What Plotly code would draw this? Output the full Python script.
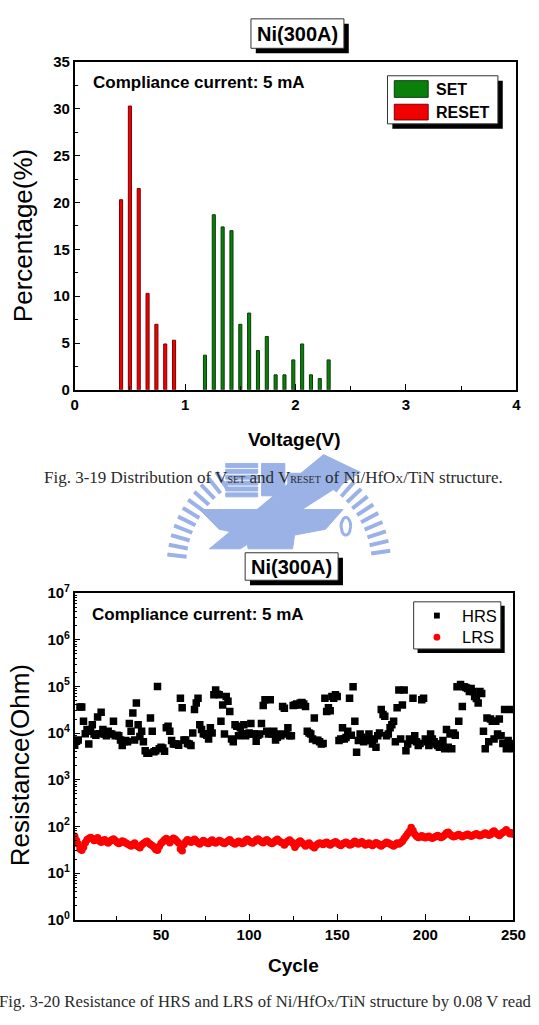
import math
import plotly.graph_objects as go

W, H = 539, 1025
def px(x): return x / W
def py(y): return 1 - y / H

# ---------------- data: top chart ----------------
reset_v = [0.42, 0.50, 0.58, 0.66, 0.74, 0.82, 0.90]
reset_pct = [20.3, 30.3, 21.5, 10.3, 7.0, 4.9, 5.3]
set_v = [1.18, 1.26, 1.34, 1.42, 1.50, 1.58, 1.66, 1.74, 1.82, 1.90, 1.98, 2.06, 2.14, 2.22, 2.30]
set_pct = [3.7, 18.7, 17.4, 17.0, 7.0, 8.2, 4.2, 5.7, 1.6, 1.6, 3.2, 4.9, 1.6, 1.2, 3.2]

# ---------------- data: bottom chart ----------------
cycles = list(range(1, 251))
hrs_ohm = [
    5.5e3, 6.7e3, 7.1e3, 3.6e4, 3.6e4, 1.8e4, 9.7e3, 1.2e4, 5.8e3, 1.1e4,
    1.5e4, 9.5e3, 9.0e3, 2.2e4, 9.7e3, 2.8e4, 1.2e4, 9.5e3, 8.8e3, 1.1e4,
    9.7e3, 9.5e3, 1.8e4, 8.8e3, 9.0e3, 8.8e3, 7.1e3, 5.4e3, 6.5e3, 6.9e3,
    6.5e3, 1.6e4, 1.1e4, 2.7e4, 7.1e3, 4.4e4, 1.5e4, 8.4e3, 1.1e4, 6.5e3,
    4.2e3, 3.7e3, 3.7e3, 2.1e4, 1.1e4, 4.0e3, 4.2e3, 1.0e5, 4.6e3, 5.0e3,
    4.8e3, 4.1e3, 1.3e4, 1.4e4, 1.1e4, 6.9e3, 5.8e3, 5.8e3, 5.8e3, 5.5e3,
    5.6e4, 3.5e4, 7.1e3, 7.1e3, 6.0e3, 5.8e3, 5.4e3, 1.0e4, 3.2e4, 4.4e4,
    5.6e4, 1.5e4, 1.2e4, 9.7e3, 9.5e3, 9.0e3, 7.5e3, 1.3e4, 1.0e4, 6.6e4,
    8.4e4, 6.8e4, 6.6e4, 1.8e4, 4.0e4, 9.5e3, 6.1e4, 4.8e4, 2.9e4, 7.5e3,
    6.5e3, 1.5e4, 1.4e4, 8.8e3, 1.3e4, 9.5e3, 1.5e4, 8.8e3, 9.5e3, 1.0e4,
    1.6e4, 9.5e3, 9.5e3, 6.7e3, 9.0e3, 9.5e3, 1.6e4, 3.9e4, 5.2e4, 1.1e4,
    9.5e3, 5.2e4, 9.5e3, 1.1e4, 7.1e3, 8.1e3, 9.5e3, 8.8e3, 3.7e4, 3.4e4,
    9.5e3, 1.3e4, 8.8e3, 8.8e3, 3.9e4, 4.0e4, 4.2e4, 4.0e4, 4.4e4, 4.5e4,
    4.2e4, 3.7e4, 1.1e4, 1.0e4, 9.5e3, 7.5e3, 2.1e4, 6.9e3, 7.0e3, 6.5e3,
    5.8e3, 6.0e3, 5.6e4, 2.9e4, 3.5e4, 3.0e4, 6.1e4, 5.6e4, 6.6e4, 6.1e4,
    6.9e3, 7.5e3, 1.3e4, 7.5e3, 8.0e3, 1.1e4, 5.6e4, 9.0e3, 9.8e4, 1.8e4,
    3.9e3, 6.9e3, 9.5e3, 8.1e3, 6.5e3, 7.0e3, 6.9e3, 9.5e3, 6.9e3, 5.8e3,
    7.5e3, 5.0e3, 8.8e3, 1.0e4, 3.2e4, 2.5e4, 2.3e4, 8.8e3, 9.5e3, 1.3e4,
    1.5e4, 1.8e4, 6.5e3, 3.5e4, 8.4e4, 7.5e3, 4.0e4, 8.4e4, 4.2e3, 5.8e3,
    7.5e3, 6.9e3, 5.6e4, 8.8e3, 6.5e3, 5.4e3, 6.0e3, 5.2e4, 5.6e4, 7.5e3,
    6.5e3, 5.4e3, 9.5e3, 7.5e3, 6.5e3, 5.8e3, 5.4e3, 5.0e3, 5.8e3, 6.9e3,
    4.6e3, 1.2e4, 5.0e3, 9.5e3, 4.6e3, 1.0e4, 9.0e3, 9.8e4, 1.8e4, 1.1e5,
    3.7e4, 9.8e4, 9.5e4, 9.0e4, 7.8e4, 9.0e4, 7.8e4, 6.1e4, 5.5e4, 4.4e4,
    7.8e4, 7.0e4, 1.1e4, 4.6e3, 2.1e4, 6.5e3, 2.0e4, 1.8e4, 7.5e3, 1.8e4,
    9.5e3, 2.0e4, 8.8e3, 6.0e3, 3.2e4, 4.6e3, 6.9e3, 6.0e3, 3.2e4, 4.6e3,
]
lrs_ohm = [
    62, 50, 42, 33, 31, 36, 45, 52, 55, 58,
    55, 50, 53, 57, 49, 46, 50, 52, 47, 44,
    48, 51, 54, 50, 46, 43, 45, 49, 47, 44,
    42, 40, 38, 41, 44, 39, 37, 35, 40, 43,
    46, 48, 44, 41, 39, 36, 32, 31, 37, 43,
    47, 52, 55, 50, 45, 52, 56, 53, 48, 44,
    33, 30, 41, 47, 52, 50, 46, 49, 53, 48,
    45, 42, 46, 50, 47, 44, 43, 48, 51, 46,
    44, 47, 50, 48, 45, 43, 46, 49, 52, 47,
    44, 42, 45, 48, 46, 43, 45, 50, 53, 49,
    46, 44, 47, 51, 54, 50, 47, 45, 49, 52,
    48, 45, 43, 46, 50, 53, 49, 46, 44, 40,
    45, 48, 51, 47, 43, 36, 41, 46, 49, 45,
    42, 38, 41, 44, 40, 37, 35, 39, 42, 44,
    43, 41, 44, 46, 42, 40, 43, 45, 47, 44,
    41, 39, 42, 44, 46, 43, 40, 41, 45, 48,
    44, 42, 45, 47, 43, 40, 42, 44, 41, 39,
    42, 45, 43, 40, 38, 41, 43, 46, 44, 42,
    40, 38, 41, 44, 42, 45, 48, 55, 62, 70,
    78, 95, 82, 68, 62, 58, 60, 63, 59, 57,
    60, 62, 58, 56, 59, 61, 64, 60, 58, 61,
    66, 72, 75, 68, 63, 60, 62, 65, 67, 63,
    60, 63, 66, 68, 65, 62, 64, 67, 70, 66,
    63, 66, 69, 72, 68, 65, 67, 75, 80, 72,
    68, 64, 70, 74, 78, 85, 76, 70, 73, 68,
]

x_ticks_top = [0, 1, 2, 3, 4]
y_ticks_top = [0, 5, 10, 15, 20, 25, 30, 35]
x_ticks_bot = [50, 100, 150, 200, 250]
y_exp_bot = [0, 1, 2, 3, 4, 5, 6, 7]

SANS = "Liberation Sans, Arial, sans-serif"
SERIF = "Liberation Serif, Times New Roman, serif"
GREEN, GREEN_EDGE = "#0a800a", "#0b3d0b"
RED, RED_EDGE = "#f20000", "#7a0000"
LOGO = "#9ab2e6"

fig = go.Figure()

# ---- faint emblem (watermark) drawn on a hidden full-page pixel overlay ----
def deco(xs, ys, **kw):
    fig.add_trace(go.Scatter(x=xs, y=ys, xaxis="x3", yaxis="y3", showlegend=False,
                             hoverinfo="skip", **kw))

def fill_poly(pts):
    xs = [p[0] for p in pts] + [pts[0][0]]
    ys = [p[1] for p in pts] + [pts[0][1]]
    deco(xs, ys, mode="lines", fill="toself", fillcolor=LOGO, line=dict(color=LOGO, width=1))

cx, cy = 284, 566
rx, ry = [], []
for ang in list(range(186, 240, 5)) + list(range(302, 356, 5)):
    t = math.radians(ang)
    rx += [cx + 96 * math.cos(t), cx + 116 * math.cos(t), None]
    ry += [cy + 96 * math.sin(t), cy + 116 * math.sin(t), None]
deco(rx, ry, mode="lines", line=dict(color=LOGO, width=4))
for k in range(6):
    fill_poly([(229, 461 + k * 6), (262, 461 + k * 6), (262, 465 + k * 6), (229, 465 + k * 6)])
fill_poly([(266, 461), (290, 461), (290, 494), (266, 494)])
fill_poly([(293, 471), (314, 471), (314, 494), (293, 494)])
fill_poly([(330, 452), (368, 470), (244, 548), (212, 548)])
fill_poly([(202, 508), (350, 508), (332, 528), (300, 534), (298, 548),
           (252, 548), (250, 534), (222, 528)])
ex = [353 + 5 * math.cos(math.radians(a)) for a in range(0, 361, 20)]
ey = [525 + 9 * math.sin(math.radians(a)) for a in range(0, 361, 20)]
deco(ex, ey, mode="lines", line=dict(color=LOGO, width=3))

# ---- data traces ----
fig.add_trace(go.Bar(x=set_v, y=set_pct, width=0.028, name="SET",
                     marker=dict(color=GREEN, line=dict(color=GREEN_EDGE, width=1)),
                     xaxis="x", yaxis="y", showlegend=False))
fig.add_trace(go.Bar(x=reset_v, y=reset_pct, width=0.028, name="RESET",
                     marker=dict(color=RED, line=dict(color=RED_EDGE, width=1)),
                     xaxis="x", yaxis="y", showlegend=False))

fig.add_trace(go.Scatter(x=cycles, y=lrs_ohm, mode="markers", name="LRS",
                         marker=dict(symbol="circle", size=7.5, color="#ff0000"),
                         xaxis="x2", yaxis="y2", showlegend=False))
fig.add_trace(go.Scatter(x=cycles, y=hrs_ohm, mode="markers", name="HRS",
                         marker=dict(symbol="square", size=7.5, color="#000000"),
                         xaxis="x2", yaxis="y2", showlegend=False))

axis_common = dict(showline=True, mirror=True, linecolor="black", linewidth=1.5,
                   ticks="inside", ticklen=6, tickwidth=1.2, tickcolor="black",
                   showgrid=False, zeroline=False,
                   tickfont=dict(family=SANS, size=15, color="black", weight="bold"))

minor_top_y = [2.5 + 5 * k for k in range(7)]
minor_bot_y = [k * 10 ** n for n in range(7) for k in range(2, 10)]

fig.update_layout(
    width=W, height=H, margin=dict(l=0, r=0, t=0, b=0),
    paper_bgcolor="white", plot_bgcolor="rgba(0,0,0,0)", barmode="overlay",
    xaxis=dict(domain=[px(73), px(529)], range=[0, 4], anchor="y",
               tickmode="array", tickvals=x_ticks_top,
               minor=dict(ticks="inside", ticklen=4, tickcolor="black",
                          tickmode="array", tickvals=[0.5, 1.5, 2.5, 3.5]),
               **axis_common),
    yaxis=dict(domain=[py(386), py(52)], range=[0, 35], anchor="x",
               tickmode="array", tickvals=y_ticks_top,
               minor=dict(ticks="inside", ticklen=4, tickcolor="black",
                          tickmode="array", tickvals=minor_top_y),
               **axis_common),
    xaxis2=dict(domain=[px(73), px(526)], range=[1, 250], anchor="y2",
                tickmode="array", tickvals=x_ticks_bot,
                minor=dict(ticks="inside", ticklen=4, tickcolor="black",
                           tickmode="array", tickvals=[25, 75, 125, 175, 225]),
                **axis_common),
    yaxis2=dict(domain=[py(926), py(593)], type="log", range=[0, 7], anchor="x2",
                tickmode="array", tickvals=[10 ** e for e in y_exp_bot],
                ticktext=["10<sup>%d</sup>" % e for e in y_exp_bot],
                minor=dict(ticks="inside", ticklen=3, tickcolor="black",
                           tickmode="array", tickvals=minor_bot_y),
                **axis_common),
    xaxis3=dict(domain=[0, 1], range=[0, W], anchor="y3", visible=False, fixedrange=True),
    yaxis3=dict(domain=[0, 1], range=[H, 0], anchor="x3", visible=False, fixedrange=True),
)

shapes = []
annotations = []

def rect(x0, y0, x1, y1, fill, line_color=None, lw=0):
    shapes.append(dict(type="rect", xref="paper", yref="paper", layer="above",
                       x0=px(x0), x1=px(x1), y0=py(y1), y1=py(y0), fillcolor=fill,
                       line=dict(color=line_color or fill, width=lw)))

def box(x0, y0, x1, y1, sh=5):
    rect(x0 + sh, y0 + sh, x1 + sh, y1 + sh, "black")
    rect(x0, y0, x1, y1, "white", "#333", 1)

def text(x, y, s, size, weight="normal", xanchor="center", family=SANS, color="black", angle=0):
    annotations.append(dict(x=px(x), y=py(y), xref="paper", yref="paper", text=s,
                            showarrow=False, xanchor=xanchor, yanchor="middle",
                            textangle=angle,
                            font=dict(family=family, size=size, color=color, weight=weight)))

# top title box
box(255, 8, 351, 38)
text(303, 23, "Ni(300A)", 20, "bold")
# top legend
box(396, 66, 510, 115)
rect(403, 71, 438, 88, GREEN, GREEN_EDGE, 1)
rect(403, 95, 438, 111, RED, RED_EDGE, 1)
text(444, 80, "SET", 16, "bold", "left")
text(444, 103, "RESET", 16, "bold", "left")
text(90, 73, "Compliance current: 5 mA", 17, "bold", "left")
text(300, 437, "Voltage(V)", 19, "bold")
text(19, 229, "Percentage(%)", 26, "normal", angle=-90)
text(278, 475, "Fig. 3-19 Distribution of V<span style='font-size:10px'>SET</span> and "
     "V<span style='font-size:10px'>RESET</span> of Ni/HfO<span style='font-size:11px'>X</span>/TiN structure.",
     17, family=SERIF, color="#2a2a2a")

# bottom title box
box(249, 552, 345, 580)
text(297, 566, "Ni(300A)", 20, "bold")
# bottom legend
box(423, 602, 513, 650, sh=4)
rect(444, 613, 450, 619, "black")
shapes.append(dict(type="circle", xref="paper", yref="paper", x0=px(443.5), x1=px(450.5),
                   y0=py(641.5), y1=py(634.5), fillcolor="#ff0000", line=dict(width=0)))
text(471, 616, "HRS", 16.5, "normal", "left")
text(471, 638, "LRS", 16.5, "normal", "left")
text(89, 615, "Compliance current: 5 mA", 17, "bold", "left")
text(299, 973, "Cycle", 19, "bold")
text(16, 768, "Resistance(Ohm)", 26, "normal", angle=-90)
text(269.5, 1009, "Fig. 3-20 Resistance of HRS and LRS of Ni/HfO<span style='font-size:11px'>X</span>/TiN structure by 0.08 V read",
     16.7, family=SERIF, color="#2a2a2a")

fig.update_layout(shapes=shapes, annotations=annotations)
fig.write_html("out.html")
